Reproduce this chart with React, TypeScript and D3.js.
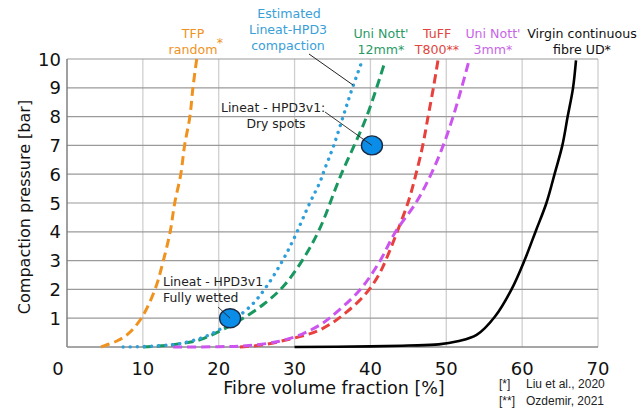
import * as d3 from "d3";

// fibre volume fraction [%] vs compaction pressure [bar]
const tfpX = [4.5, 5.2, 6.5, 7.9, 9.8, 11.6, 12.7, 13.6, 14.2, 15.0, 15.5, 16.2, 16.6, 17.1];
const tfpY = [0, 0.07, 0.2, 0.42, 1.0, 2.0, 3.0, 4.0, 5.0, 6.0, 7.0, 8.0, 9.0, 10];

const estX = [7.4, 12, 15.3, 19, 21.9, 24.5, 26.3, 28.2, 29.8, 32.0, 33.3, 34.0, 35.1, 36.4, 37.5, 39.0];
const estY = [0, 0.04, 0.14, 0.45, 0.93, 1.5, 2.1, 2.9, 3.7, 5.0, 5.7, 6.2, 6.95, 8.0, 8.9, 10];

const nott12X = [10, 14, 17.5, 20.5, 22.8, 26, 28.5, 31, 33.3, 36, 39.5, 41.9];
const nott12Y = [0, 0.08, 0.25, 0.6, 0.93, 1.5, 2.1, 3.0, 4.1, 5.9, 8.0, 9.9];

const tuffX = [22.8, 26, 29, 31.5, 33.3, 35.2, 36.8, 38.5, 40.0, 41.3, 42.4, 43.6, 45.0, 46.0, 46.9, 47.6, 48.3, 48.9];
const tuffY = [0, 0.08, 0.25, 0.42, 0.59, 0.88, 1.2, 1.6, 2.05, 2.6, 3.25, 4.05, 5.05, 6.0, 7.0, 8.0, 9.0, 9.95];

const nott3X = [14, 20, 24, 28, 31, 33.3, 34.6, 38.6, 41.2, 43.2, 46.1, 48.05, 49.6, 50.9, 52.0, 53.0];
const nott3Y = [0, 0.01, 0.05, 0.2, 0.45, 0.76, 1.0, 1.98, 2.96, 3.95, 5.05, 6.03, 7.0, 8.0, 8.98, 9.95];

const virginX = [30, 40, 45, 49, 51.5, 54.0, 56.4, 58.6, 60.3, 61.8, 63.2, 64.3, 65.3, 66.0, 66.7, 67.1];
const virginY = [0, 0.02, 0.05, 0.09, 0.2, 0.42, 1.05, 2.0, 3.0, 4.03, 5.0, 6.03, 7.0, 8.0, 8.98, 9.95];

const xTicks = [0, 10, 20, 30, 40, 50, 60, 70];
const yTicks = [1, 2, 3, 4, 5, 6, 7, 8, 9, 10];

// Lineat-HPD3v1 measured points
const pointX = [21.5, 40.2];
const pointY = [1.0, 7.0];

const FONT = "DejaVu Sans, Verdana, sans-serif";

export default function App() {
  const left = 67;
  const right = 598;
  const top = 59;
  const bottom = 347;

  const x = d3.scaleLinear().domain([0, 70]).range([left, right]);
  const y = d3.scaleLinear().domain([0, 10]).range([bottom, top]);

  const line = d3
    .line<[number, number]>()
    .x((d) => x(d[0]))
    .y((d) => Math.min(y(d[1]), bottom))
    .curve(d3.curveCatmullRom.alpha(0.5));

  const zip = (xs: number[], ys: number[]) =>
    xs.map((v, i) => [v, ys[i]] as [number, number]);

  const series = [
    { xs: tfpX, ys: tfpY, color: "#f0921e", dash: "9 5" },
    { xs: nott12X, ys: nott12Y, color: "#18975f", dash: "9 5" },
    { xs: tuffX, ys: tuffY, color: "#e8403c", dash: "9 5" },
    { xs: nott3X, ys: nott3Y, color: "#cb55ee", dash: "9 5" },
    { xs: virginX, ys: virginY, color: "#000000", dash: "none" },
  ];

  const labels = [
    { cx: 193, lines: ["TFP", "random"], color: "#f0921e", star: true },
    { cx: 381, lines: ["Uni Nott'", "12mm*"], color: "#2a9a66" },
    { cx: 437, lines: ["TuFF", "T800**"], color: "#e0453f" },
    { cx: 493, lines: ["Uni Nott'", "3mm*"], color: "#c865e6" },
    { cx: 582, lines: ["Virgin continuous", "fibre UD*"], color: "#111111" },
  ];

  return (
    <svg width={638} height={410} style={{ position: "absolute", left: 0, top: 0, background: "#fff" }}>
      <rect x={0} y={0} width={638} height={410} fill="#fff" />
      <defs>
        <clipPath id="plot">
          <rect x={left} y={0} width={right - left + 10} height={bottom + 2} />
        </clipPath>
      </defs>
      {/* grid */}
      <g>
        {xTicks.slice(1).map((t) => (
          <line key={t} x1={x(t)} x2={x(t)} y1={top} y2={bottom} stroke="#cfcfcf" strokeWidth={1.3} />
        ))}
        {yTicks.map((t) => (
          <line key={t} x1={left} x2={right} y1={y(t)} y2={y(t)} stroke="#9a9a9a" strokeWidth={1.2} />
        ))}
        <line x1={left} x2={left} y1={top} y2={bottom} stroke="#777" strokeWidth={1.4} />
        <line x1={left} x2={right} y1={bottom} y2={bottom} stroke="#888" strokeWidth={1.4} />
      </g>

      {/* tick labels */}
      <g fontFamily={FONT} fontSize={18} fill="#111">
        {xTicks.map((t) => (
          <text key={t} x={x(t) - (t === 0 ? 9 : 0)} y={375} textAnchor="middle">
            {t}
          </text>
        ))}
        {yTicks.map((t) => (
          <text key={t} x={61} y={y(t)} textAnchor="end" dominantBaseline="central">
            {t}
          </text>
        ))}
      </g>

      {/* axis titles */}
      <text x={334} y={394} textAnchor="middle" fontFamily={FONT} fontSize={17.5} fill="#111">
        Fibre volume fraction [%]
      </text>
      <text
        transform={`translate(24, ${(top + bottom) / 2 + 4}) rotate(-90)`}
        textAnchor="middle"
        dominantBaseline="central"
        fontFamily={FONT}
        fontSize={16}
        fill="#111"
      >
        Compaction pressure [bar]
      </text>

      {/* curves */}
      <g fill="none" strokeWidth={3} clipPath="url(#plot)">
        {series.map((s, i) => (
          <path
            key={i}
            d={line(zip(s.xs, s.ys)) ?? ""}
            stroke={s.color}
            strokeDasharray={s.dash}
            strokeWidth={s.dash === "none" ? 2.6 : 3}
          />
        ))}
        <path
          d={line(zip(estX, estY)) ?? ""}
          stroke="#2e9fda"
          strokeWidth={3.4}
          strokeDasharray="0.1 7"
          strokeLinecap="round"
        />
      </g>

      {/* series labels */}
      <g fontFamily={FONT} fontSize={12.6} textAnchor="middle">
        {labels.map((l, i) => (
          <g key={i} fill={l.color}>
            <text x={l.cx} y={38}>{l.lines[0]}</text>
            <text x={l.cx} y={54}>{l.lines[1]}</text>
            {l.star && (
              <text x={l.cx + 27} y={47}>*</text>
            )}
          </g>
        ))}
        <g fill="#3aa0d8">
          <text x={289} y={18}>Estimated</text>
          <text x={288} y={34}>Lineat-HPD3</text>
          <text x={288} y={50}>compaction</text>
        </g>
      </g>
      <line x1={309} y1={54} x2={353} y2={85} stroke="#222" strokeWidth={1} />

      {/* Lineat-HPD3v1 points */}
      <g fontFamily={FONT} fontSize={12.4} fill="#222">
        <text x={163} y={286}>Lineat - HPD3v1</text>
        <text x={163} y={302}>Fully wetted</text>
        <text x={221} y={112}>Lineat - HPD3v1:</text>
        <text x={276} y={128} textAnchor="middle">Dry spots</text>
      </g>
      {pointX.map((v, i) => (
        <ellipse
          key={i}
          cx={x(v)}
          cy={y(pointY[i])}
          rx={10.5}
          ry={9.5}
          fill="#0a8de8"
          stroke="#1a2a44"
          strokeWidth={1.4}
        />
      ))}
      <line x1={218} y1={307} x2={x(pointX[0])} y2={y(pointY[0])} stroke="#222" strokeWidth={0.9} />
      <line x1={325} y1={112} x2={x(pointX[1])} y2={y(pointY[1])} stroke="#222" strokeWidth={0.9} />

      {/* references */}
      <g fontFamily="Liberation Sans, Arial, sans-serif" fontSize={12} fill="#222">
        <text x={499} y={388}>[*]</text>
        <text x={526} y={388}>Liu et al., 2020</text>
        <text x={499} y={405}>[**]</text>
        <text x={526} y={405}>Ozdemir, 2021</text>
      </g>
    </svg>
  );
}
